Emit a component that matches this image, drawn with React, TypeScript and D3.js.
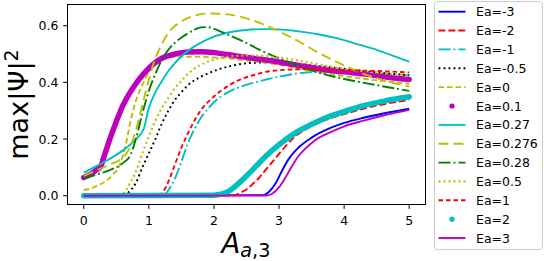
import React from "react";
import * as d3 from "d3";

const xTicks = [0, 1, 2, 3, 4, 5];
const yTicks = [0.0, 0.2, 0.4, 0.6];
const yTickLabels = ["0.0", "0.2", "0.4", "0.6"];

const labels = ["Ea=-3", "Ea=-2", "Ea=-1", "Ea=-0.5", "Ea=0", "Ea=0.1", "Ea=0.27", "Ea=0.276", "Ea=0.28", "Ea=0.5", "Ea=1", "Ea=2", "Ea=3"];

const xM3 = [0, 2.75, 2.85, 2.95, 3.05, 3.15, 3.3, 3.5, 3.8, 4.0, 4.3, 4.6, 5.0];
const yM3 = [0, 0.002, 0.015, 0.045, 0.09, 0.13, 0.17, 0.205, 0.24, 0.257, 0.275, 0.29, 0.307];

const xM2 = [0, 2.3, 2.4, 2.5, 2.6, 2.7, 2.8, 2.9, 3.0, 3.1, 3.25, 3.5, 3.75, 4.0, 4.5, 5.0];
const yM2 = [0, 0.001, 0.01, 0.022, 0.042, 0.065, 0.093, 0.12, 0.148, 0.175, 0.21, 0.245, 0.27, 0.288, 0.318, 0.338];

const xM1 = [0, 1.2, 1.25, 1.3, 1.4, 1.5, 1.6, 1.7, 1.8, 1.9, 2.0, 2.2, 2.4, 2.6, 2.8, 3.0, 3.3, 3.6, 4.0, 4.5, 5.0];
const yM1 = [0, 0.001, 0.005, 0.02, 0.06, 0.12, 0.185, 0.235, 0.275, 0.305, 0.33, 0.363, 0.384, 0.398, 0.41, 0.42, 0.432, 0.437, 0.437, 0.432, 0.425];

const xM05 = [0, 0.6, 0.65, 0.7, 0.8, 0.9, 1.0, 1.1, 1.2, 1.3, 1.4, 1.5, 1.6, 1.8, 2.0, 2.3, 2.6, 3.0, 3.5, 4.0, 4.5, 5.0];
const yM05 = [0, 0.001, 0.004, 0.015, 0.045, 0.1, 0.15, 0.2, 0.255, 0.3, 0.338, 0.365, 0.39, 0.42, 0.44, 0.46, 0.469, 0.471, 0.46, 0.448, 0.435, 0.425];

const x0 = [0, 0.1, 0.2, 0.33, 0.45, 0.54, 0.64, 0.74, 0.8, 0.9, 1.0, 1.1, 1.2, 1.4, 1.7, 2.0, 2.5, 3.0, 3.5, 4.0, 4.5, 5.0];
const y0 = [0.02, 0.025, 0.035, 0.05, 0.075, 0.102, 0.175, 0.285, 0.335, 0.39, 0.437, 0.468, 0.484, 0.49, 0.49, 0.488, 0.477, 0.462, 0.44, 0.422, 0.407, 0.395];

const x01 = [0, 0.1, 0.2, 0.26, 0.3, 0.4, 0.5, 0.6, 0.7, 0.8, 0.9, 1.0, 1.1, 1.2, 1.4, 1.6, 1.8, 2.0, 2.3, 2.6, 3.0, 3.3, 3.6, 4.0, 4.3, 4.6, 5.0];
const y01 = [0.064, 0.075, 0.092, 0.102, 0.13, 0.2, 0.262, 0.318, 0.36, 0.395, 0.425, 0.45, 0.47, 0.485, 0.5, 0.507, 0.508, 0.505, 0.495, 0.485, 0.472, 0.46, 0.448, 0.437, 0.43, 0.42, 0.41];

const x027 = [0, 0.2, 0.4, 0.6, 0.8, 0.92, 1.0, 1.1, 1.2, 1.3, 1.4, 1.5, 1.7, 1.9, 2.2, 2.5, 2.8, 3.0, 3.3, 3.6, 3.9, 4.2, 4.5, 4.8, 5.0];
const y027 = [0.081, 0.105, 0.13, 0.16, 0.2, 0.235, 0.31, 0.365, 0.405, 0.44, 0.468, 0.492, 0.527, 0.552, 0.575, 0.585, 0.588, 0.587, 0.58, 0.57, 0.555, 0.535, 0.515, 0.49, 0.473];

const x0276 = [0, 0.2, 0.4, 0.6, 0.7, 0.8, 0.9, 1.0, 1.1, 1.2, 1.3, 1.5, 1.7, 1.9, 2.1, 2.4, 2.7, 3.0, 3.3, 3.6, 4.0, 4.3, 4.6, 5.0];
const y0276 = [0.07, 0.09, 0.11, 0.135, 0.165, 0.23, 0.32, 0.41, 0.485, 0.535, 0.575, 0.615, 0.635, 0.643, 0.642, 0.632, 0.61, 0.58, 0.545, 0.505, 0.46, 0.43, 0.408, 0.385];

const x028 = [0, 0.2, 0.4, 0.6, 0.72, 0.8, 0.9, 1.0, 1.1, 1.2, 1.3, 1.4, 1.5, 1.6, 1.7, 1.8, 1.9, 2.0, 2.2, 2.4, 2.7, 3.0, 3.3, 3.6, 4.0, 4.5, 5.0];
const y028 = [0.06, 0.075, 0.09, 0.115, 0.145, 0.2, 0.29, 0.37, 0.43, 0.48, 0.515, 0.54, 0.558, 0.573, 0.586, 0.594, 0.595, 0.589, 0.57, 0.55, 0.515, 0.485, 0.458, 0.435, 0.412, 0.39, 0.37];

const x05 = [0, 0.55, 0.6, 0.65, 0.7, 0.8, 0.9, 1.0, 1.1, 1.2, 1.3, 1.4, 1.5, 1.6, 1.8, 2.0, 2.3, 2.6, 3.0, 3.5, 4.0, 4.5, 5.0];
const y05 = [0, 0.001, 0.005, 0.02, 0.04, 0.085, 0.15, 0.21, 0.265, 0.31, 0.345, 0.38, 0.405, 0.43, 0.462, 0.48, 0.493, 0.495, 0.488, 0.468, 0.448, 0.435, 0.425];

const x1 = [0, 1.15, 1.2, 1.3, 1.4, 1.5, 1.6, 1.7, 1.8, 2.0, 2.2, 2.4, 2.6, 2.8, 3.0, 3.5, 4.0, 4.5, 5.0];
const y1 = [0, 0.001, 0.008, 0.05, 0.11, 0.17, 0.22, 0.265, 0.302, 0.35, 0.385, 0.41, 0.425, 0.437, 0.443, 0.447, 0.443, 0.44, 0.435];

const x2 = [0, 2.0, 2.1, 2.2, 2.3, 2.4, 2.5, 2.6, 2.7, 2.8, 3.0, 3.25, 3.5, 3.75, 4.0, 4.3, 4.6, 5.0];
const y2 = [0, 0.002, 0.005, 0.012, 0.028, 0.048, 0.07, 0.093, 0.117, 0.14, 0.18, 0.222, 0.252, 0.278, 0.297, 0.318, 0.333, 0.349];

const x3 = [0, 2.8, 2.9, 3.0, 3.1, 3.2, 3.3, 3.4, 3.55, 3.8, 4.0, 4.3, 4.6, 5.0];
const y3 = [0, 0.001, 0.008, 0.03, 0.065, 0.105, 0.14, 0.165, 0.195, 0.225, 0.245, 0.265, 0.283, 0.303];

const seriesX = [xM3, xM2, xM1, xM05, x0, x01, x027, x0276, x028, x05, x1, x2, x3];
const seriesY = [yM3, yM2, yM1, yM05, y0, y01, y027, y0276, y028, y05, y1, y2, y3];

type Style = { color: string; width: number; dash?: string; marker?: boolean };
const styles: Style[] = [
  { color: "#0000ff", width: 1.9 },
  { color: "#ff0000", width: 1.9, dash: "6.9,3" },
  { color: "#00bfbf", width: 1.9, dash: "12,3,1.9,3" },
  { color: "#000000", width: 1.9, dash: "1.9,3.1" },
  { color: "#bfbf00", width: 1.9, dash: "5.5,3" },
  { color: "#bf00bf", width: 5.5, marker: true },
  { color: "#00bfbf", width: 1.9 },
  { color: "#bfbf00", width: 1.9, dash: "10,5" },
  { color: "#008000", width: 1.9, dash: "12,3,1.9,3" },
  { color: "#bfbf00", width: 2.2, dash: "2,3" },
  { color: "#ff0000", width: 1.9, dash: "4.5,3" },
  { color: "#00bfbf", width: 5.5, marker: true },
  { color: "#bf00bf", width: 1.9 },
];

const W = 544;
const H = 261;
const L = 67.5, R = 425.5, T = 4.5, B = 204.5;
const FONT = "DejaVu Sans, sans-serif";

export default function App() {
  const x = d3.scaleLinear().domain([-0.25, 5.25]).range([L, R]);
  const y = d3.scaleLinear().domain([-0.031, 0.6748]).range([B, T]);
  const line = d3
    .line<[number, number]>()
    .x((d) => x(d[0]))
    .y((d) => y(d[1]))
    .curve(d3.curveMonotoneX);

  const rowY = (i: number) => 11.7 + i * 18.86;

  return (
    <svg width={W} height={H} style={{ position: "absolute", left: 0, top: 0 }} fontFamily={FONT}>
      <rect x={0} y={0} width={W} height={H} fill="#fff" />
      <defs>
        <clipPath id="plot">
          <rect x={L} y={T} width={R - L} height={B - T} />
        </clipPath>
      </defs>
      <g clipPath="url(#plot)">
        {seriesX.map((xs, i) => {
          const pts = xs.map((v, j) => [v, seriesY[i][j]] as [number, number]);
          const s = styles[i];
          return (
            <path
              key={i}
              d={line(pts) || ""}
              fill="none"
              stroke={s.color}
              strokeWidth={s.width}
              strokeDasharray={s.dash}
              strokeLinecap={s.marker ? "round" : "butt"}
              strokeLinejoin="round"
            />
          );
        })}
      </g>
      <rect x={L} y={T} width={R - L} height={B - T} fill="none" stroke="#000" strokeWidth={1} />
      {xTicks.map((t) => (
        <g key={"x" + t}>
          <line x1={x(t)} x2={x(t)} y1={B} y2={B + 4.4} stroke="#000" strokeWidth={1} />
          <text x={x(t)} y={224.5} fontSize={12.5} textAnchor="middle">{t}</text>
        </g>
      ))}
      {yTicks.map((t, i) => (
        <g key={"y" + t}>
          <line x1={L - 4.4} x2={L} y1={y(t)} y2={y(t)} stroke="#000" strokeWidth={1} />
          <text x={58.5} y={y(t) + 4.5} fontSize={12.5} textAnchor="end">{yTickLabels[i]}</text>
        </g>
      ))}
      <text transform={`translate(28,104.5) rotate(-90)`} fontSize={27} textAnchor="middle">
        max|Ψ|<tspan fontSize={19} dy={-10}>2</tspan>
      </text>
      <text x={246} y={253} fontSize={27.5} textAnchor="middle">
        <tspan fontStyle="italic">A</tspan>
        <tspan fontSize={19.25} dy={4}><tspan fontStyle="italic">a</tspan>,3</tspan>
      </text>
      <rect x={434.5} y={1.5} width={108} height={248} rx={3} fill="#fff" fillOpacity={0.8} stroke="#cccccc" strokeWidth={1} />
      {labels.map((lab, i) => {
        const s = styles[i];
        const cy = rowY(i);
        return (
          <g key={lab}>
            {s.marker ? (
              <circle cx={452} cy={cy} r={2.6} fill={s.color} />
            ) : (
              <line x1={438.5} x2={465.5} y1={cy} y2={cy} stroke={s.color} strokeWidth={s.width} strokeDasharray={s.dash} />
            )}
            <text x={476} y={cy + 4.5} fontSize={12.5}>{lab}</text>
          </g>
        );
      })}
    </svg>
  );
}
